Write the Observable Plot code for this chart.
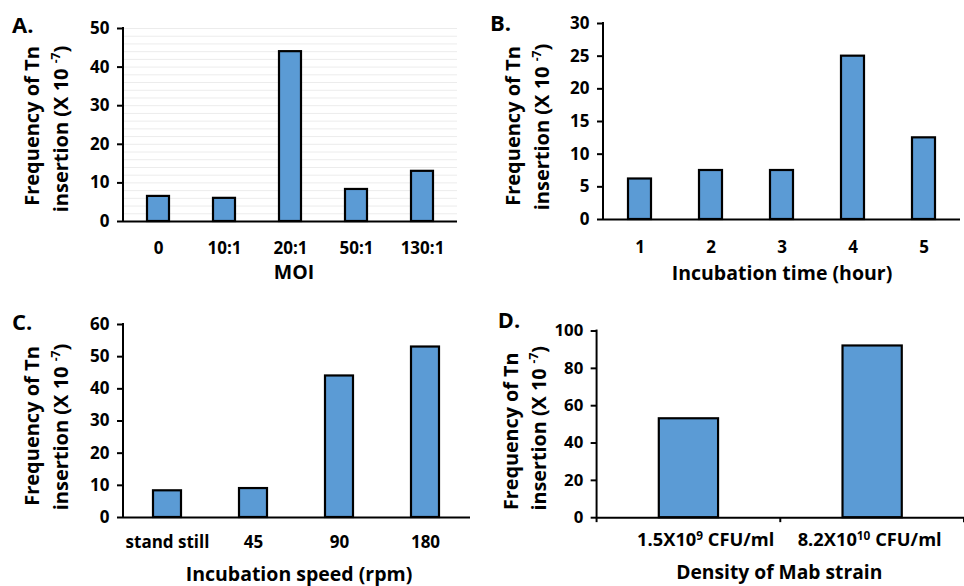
<!DOCTYPE html>
<html><head><meta charset="utf-8">
<script src="https://cdn.jsdelivr.net/npm/d3@7"></script>
<script src="https://cdn.jsdelivr.net/npm/@observablehq/plot@0.6"></script>
<style>
html,body{margin:0;padding:0;background:#fff;overflow:hidden}
#wrap{position:relative;width:964px;height:586px;overflow:hidden;font-family:"Open Sans",sans-serif}
.panel{position:absolute}
</style></head><body><div id="wrap"></div>
<script>
// ---- data ----
const moiCats = ["0", "10:1", "20:1", "50:1", "130:1"];
const moiVals = [6.5, 6.0, 44, 8.3, 13];
const timeCats = ["1", "2", "3", "4", "5"];
const timeVals = [6.2, 7.5, 7.5, 25, 12.5];
const speedCats = ["stand still", "45", "90", "180"];
const speedVals = [8.3, 9.0, 44, 53];
const densBase = ["1.5X10", "8.2X10"];
const densExp = ["9", "10"];
const densUnit = [" CFU/ml", " CFU/ml"];
const densCats = densBase.map((b, i) => b + "^" + densExp[i] + densUnit[i]);
const densVals = [53, 92];
const ticksA = [0, 10, 20, 30, 40, 50];
const ticksB = [0, 5, 10, 15, 20, 25, 30];
const ticksC = [0, 10, 20, 30, 40, 50, 60];
const ticksD = [0, 20, 40, 60, 80, 100];
const gridA = [2, 4, 6, 8, 10, 12, 14, 16, 18, 20, 22, 24, 26, 28, 30, 32, 34, 36, 38, 40, 42, 44, 46, 48, 50];

const panels = [
  {id: "A.", cats: moiCats, vals: moiVals, yTicks: ticksA, yMax: 50, grid: gridA,
   title: "MOI", left: 0, top: 0, width: 482, height: 293, xfs: 17,
   m: [28, 25, 72, 123], pad: 20, pi: 0.67, titlePos: [294, 279], labPos: [12, 33],
   yl: [[39, 126], [68, 129]], boundaryTicks: false, labelDx: null},
  {id: "B.", cats: timeCats, vals: timeVals, yTicks: ticksB, yMax: 30, grid: null,
   title: "Incubation time (hour)", left: 482, top: 0, width: 482, height: 293, xfs: 17,
   m: [23, 4, 74, 121], pad: 21, pi: 0.67, titlePos: [300, 280], labPos: [8, 31],
   yl: [[38, 126], [67, 127]], boundaryTicks: false, labelDx: null},
  {id: "C.", cats: speedCats, vals: speedVals, yTicks: ticksC, yMax: 60, grid: null,
   title: "Incubation speed (rpm)", left: 0, top: 293, width: 482, height: 293, xfs: 17,
   m: [31, 12, 69, 123], pad: 18, pi: 0.67, titlePos: [299, 288], labPos: [12, 37],
   yl: [[39, 133], [68, 134]], boundaryTicks: false, labelDx: null},
  {id: "D.", cats: densCats, vals: densVals, yTicks: ticksD, yMax: 100, grid: null,
   title: "Density of Mab strain", left: 482, top: 293, width: 488, height: 293, xfs: 18.5,
   m: [38, 0, 66, 116], pad: 16, pi: 0.68, titlePos: [301, 290], labPos: [16, 35],
   yl: [[36, 140], [65, 137]], boundaryTicks: true, labelDx: [17, -3]}
];

const tf = "'Open Sans', sans-serif";
const wrap = d3.select("#wrap");
for (const p of panels) {
  const data = p.cats.map((c, i) => ({cat: c, val: p.vals[i]}));
  const [mt, mr, mb, ml] = p.m;
  const marks = [];
  if (p.grid) marks.push(Plot.gridY(p.grid, {stroke: "#ececec", strokeOpacity: 1, strokeWidth: 1}));
  marks.push(
    Plot.axisY(p.yTicks, {tickSize: 6, tickPadding: 8, strokeWidth: 2, fontSize: 17, fontWeight: "bold"}),
    Plot.axisX({tickSize: 0, tickPadding: p.pad, fontSize: p.xfs, fontWeight: "bold"}),
    Plot.barY(data, {x: "cat", y: "val", fill: "#5B9BD5", stroke: "#000", strokeWidth: 2.2}),
    Plot.ruleY([0], {stroke: "#000", strokeWidth: 2})
  );
  const chart = Plot.plot({
    width: p.width, height: p.height,
    marginTop: mt, marginRight: mr, marginBottom: mb, marginLeft: ml,
    style: {fontFamily: tf, fontWeight: "bold", color: "#000", background: "transparent", overflow: "visible"},
    x: {domain: p.cats, paddingInner: p.pi, paddingOuter: p.pi / 2, label: null, axis: null},
    y: {domain: [0, p.yMax], label: null, axis: null},
    marks
  });
  const div = wrap.append("div").attr("class", "panel")
    .style("left", p.left + "px").style("top", p.top + "px");
  div.node().appendChild(chart);
  const svg = d3.select(chart);
  const y0 = p.height - mb;
  // superscripts in category labels (and per-label offsets)
  svg.selectAll("text").each(function () {
    const el = d3.select(this);
    const s = el.text();
    const m = /^(.*X10)\^(\d+)(.*)$/.exec(s);
    if (m && this.childElementCount === 0) {
      const i = p.cats.indexOf(s);
      if (p.labelDx && i >= 0) {
        const tr = el.attr("transform") || "";
        el.attr("transform", `translate(${p.labelDx[i]},0) ` + tr);
      }
      el.text("");
      el.append("tspan").text(m[1]);
      el.append("tspan").attr("dy", -7).attr("font-size", 12).text(m[2]);
      el.append("tspan").attr("dy", 7).text(m[3]);
    }
  });
  // y axis line
  svg.append("line").attr("x1", ml).attr("x2", ml).attr("y1", mt - 1).attr("y2", y0 + 1)
    .attr("stroke", "#000").attr("stroke-width", 2);
  if (p.boundaryTicks) {
    const sx = chart.scale("x");
    const [r0, r1] = sx.range;
    const n = p.cats.length;
    for (let i = 0; i <= n; i++) {
      const x = r0 + i * (r1 - r0) / n;
      svg.append("line").attr("x1", x).attr("x2", x).attr("y1", y0).attr("y2", y0 + 5)
        .attr("stroke", "#000").attr("stroke-width", 2);
    }
  }
  // axis title
  svg.append("text").attr("x", p.titlePos[0]).attr("y", p.titlePos[1])
    .attr("text-anchor", "middle").attr("font-family", tf).attr("font-weight", "bold")
    .attr("font-size", 19.5).attr("fill", "#000").text(p.title);
  // panel label
  svg.append("text").attr("x", p.labPos[0]).attr("y", p.labPos[1])
    .attr("text-anchor", "start").attr("font-family", tf).attr("font-weight", "bold")
    .attr("font-size", 22).attr("fill", "#000").text(p.id);
  // y label (two lines, rotated)
  svg.append("text").attr("transform", `translate(${p.yl[0][0]},${p.yl[0][1]}) rotate(-90)`)
    .attr("text-anchor", "middle").attr("font-family", tf).attr("font-weight", "bold")
    .attr("font-size", 20).attr("fill", "#000").text("Frequency of Tn");
  const t = svg.append("text").attr("transform", `translate(${p.yl[1][0]},${p.yl[1][1]}) rotate(-90)`)
    .attr("text-anchor", "middle").attr("font-family", tf).attr("font-weight", "bold")
    .attr("font-size", 20).attr("fill", "#000");
  t.append("tspan").text("insertion (X 10 ");
  t.append("tspan").attr("dy", -8).attr("font-size", 12).text("-7");
  t.append("tspan").attr("dy", 8).text(")");
}
</script></body></html>
